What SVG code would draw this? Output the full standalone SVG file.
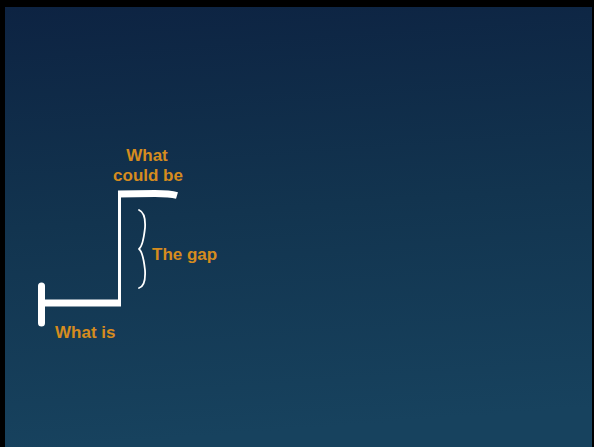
<svg xmlns="http://www.w3.org/2000/svg" width="594" height="447" viewBox="0 0 594 447">
<defs>
<linearGradient id="bg" x1="0" y1="0" x2="0.1" y2="1">
<stop offset="0" stop-color="#0d2342"/>
<stop offset="0.5" stop-color="#12344f"/>
<stop offset="1" stop-color="#17425e"/>
</linearGradient>
<style>
.lbl{font-family:"Liberation Sans",Arial,sans-serif;font-weight:bold;font-size:17px;fill:#d68c1e}
.chalk{fill:none;stroke:#ffffff;stroke-linejoin:round}
</style>
</defs>
<rect x="0" y="0" width="594" height="447" fill="#000000"/>
<rect x="5" y="7" width="587" height="440" fill="url(#bg)"/>
<g id="connectors">
<path class="chalk" d="M119.5,194 L119.5,305" stroke-width="3"/>
<path class="chalk" d="M42,303 L121,303" stroke-width="7"/>
</g>
<g id="what-could-be">
<path class="chalk" d="M118,194 L155,193.5 Q170,193.5 177,195.5" stroke-width="7"/>
<text class="lbl" x="147" y="161" text-anchor="middle">What</text>
<text class="lbl" x="148" y="181" text-anchor="middle">could be</text>
</g>
<g id="what-is">
<path class="chalk" d="M41.5,286 L41.5,323" stroke-width="7" stroke-linecap="round"/>
<text class="lbl" x="55" y="338">What is</text>
</g>
<g id="the-gap">
<path class="chalk" d="M139,210 Q146,213 145,228 Q143,246 139,249 Q143,252 145,270 Q146,286 139,288" stroke-width="1.8" stroke-linecap="round"/>
<text class="lbl" x="152" y="260">The gap</text>
</g>
</svg>
